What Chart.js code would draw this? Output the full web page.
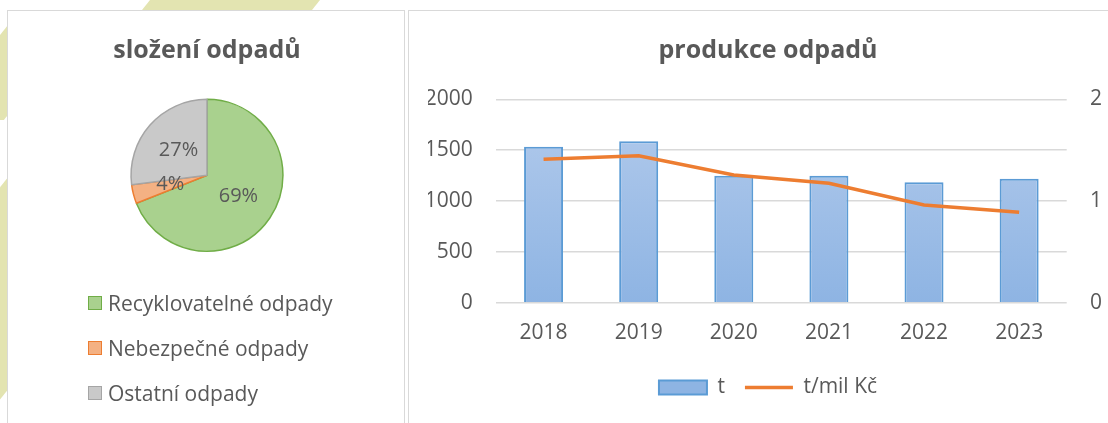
<!DOCTYPE html>
<html>
<head>
<meta charset="utf-8">
<script src="https://cdn.jsdelivr.net/npm/chart.js@4.4.1/dist/chart.umd.min.js"></script>
<style>
  html, body { margin: 0; padding: 0; background: #fff; }
  body { width: 1108px; height: 423px; position: relative; overflow: hidden; }
  .stripe { position: absolute; background: #e3e4b1; transform-origin: 0 0; transform: skewX(-38.7deg); }
  .panel { position: absolute; top: 10px; background: #fff; border: 1px solid #d9d9d9; box-sizing: border-box; }
  #left { left: 7px; width: 398px; height: 430px; }
  #right { left: 408px; width: 720px; height: 430px; }
  .panel canvas { position: absolute; left: 0; top: 0; }
  #pieLegend { position: absolute; left: 88px; top: 280px; font: 21px 'Open Sans', sans-serif; color: #595959; }
  .item { height: 45px; display: flex; align-items: center; white-space: nowrap; }
  .box { width: 14px; height: 14px; box-sizing: border-box; border: 1.5px solid; margin-right: 6px; }
</style>
</head>
<body>
<div class="stripe" style="left:150px; top:0; width:170px; height:430px;"></div>
<div class="stripe" style="left:20px; top:10px; width:72px; height:110px;"></div>

<div class="panel" id="left">
  <canvas id="pie" width="395" height="412"></canvas>
</div>
<div class="panel" id="right">
  <canvas id="combo" width="699" height="412"></canvas>
</div>
<div id="pieLegend"></div>

<script>
// --- složení odpadů ---
const pieLabels = ['Recyklovatelné odpady', 'Nebezpečné odpady', 'Ostatní odpady'];
const pieShares = [69, 4, 27];
const pieFill = ['#a9d18e', '#f4b183', '#c9c9c9'];
const pieBorder = ['#70ad47', '#ed7d31', '#a5a5a5'];

// --- produkce odpadů ---
const years = ['2018', '2019', '2020', '2021', '2022', '2023'];
const tonnes = [1534, 1587, 1249, 1249, 1184, 1219];
const tonnesPerMil = [1.41, 1.445, 1.256, 1.174, 0.961, 0.889];

const grey = '#595959';

Chart.defaults.font.family = "'Open Sans', sans-serif";
Chart.defaults.color = grey;

// percent labels in the middle of each slice
const pieValueLabels = {
    id: 'pieValueLabels',
    afterDatasetsDraw(chart) {
        const ctx = chart.ctx;
        const total = pieShares.reduce((a, b) => a + b, 0);
        ctx.save();
        ctx.font = "20px 'Open Sans'";
        ctx.fillStyle = grey;
        ctx.textAlign = 'center';
        ctx.textBaseline = 'middle';
        chart.getDatasetMeta(0).data.forEach((arc, i) => {
            const p = arc.tooltipPosition();
            ctx.fillText(Math.round(pieShares[i] / total * 100) + '%', p.x, p.y);
        });
        ctx.restore();
    }
};

new Chart(document.getElementById('pie'), {
    type: 'pie',
    data: {
        labels: pieLabels,
        datasets: [{
            data: pieShares,
            backgroundColor: pieFill,
            borderColor: pieBorder,
            borderWidth: 1.5
        }]
    },
    options: {
        responsive: false,
        animation: false,
        layout: { padding: { left: 3, right: 0, top: 0, bottom: 171 } },
        plugins: {
            legend: { display: false },
            tooltip: { enabled: false },
            title: {
                display: true,
                text: 'složení odpadů',
                color: grey,
                font: { size: 25, weight: 'bold' },
                padding: { top: 25, bottom: 32.6 }
            }
        }
    },
    plugins: [pieValueLabels]
});

// html legend for the pie
const legendBox = document.getElementById('pieLegend');
pieLabels.forEach((name, i) => {
    const row = document.createElement('div');
    row.className = 'item';
    row.innerHTML = `<span class="box" style="background:${pieFill[i]};border-color:${pieBorder[i]}"></span>${name}`;
    legendBox.appendChild(row);
});

// bar fill: light blue gradient like the original
function barFill(context) {
    const area = context.chart.chartArea;
    if (!area) return '#9dbde6';
    const g = context.chart.ctx.createLinearGradient(0, area.top, 0, area.bottom);
    g.addColorStop(0, '#b3cbec');
    g.addColorStop(1, '#8eb4e3');
    return g;
}

new Chart(document.getElementById('combo'), {
    type: 'bar',
    data: {
        labels: years,
        datasets: [
            {
                label: 't',
                data: tonnes,
                backgroundColor: barFill,
                borderColor: '#5b9bd5',
                borderWidth: 2,
                barPercentage: 0.41,
                categoryPercentage: 1,
                pointStyle: 'rect',
                yAxisID: 'y',
                order: 1
            },
            {
                type: 'line',
                label: 't/mil Kč',
                data: tonnesPerMil,
                borderColor: '#ed7d31',
                backgroundColor: '#ed7d31',
                borderWidth: 3.5,
                pointRadius: 0,
                pointStyle: 'line',
                tension: 0,
                yAxisID: 'y1',
                order: 0
            }
        ]
    },
    options: {
        responsive: false,
        animation: false,
        layout: { padding: { left: 19, right: 0, top: 0, bottom: 15 } },
        plugins: {
            tooltip: { enabled: false },
            title: {
                display: true,
                text: 'produkce odpadů',
                color: grey,
                font: { size: 25, weight: 'bold' },
                padding: { top: 25, bottom: 33.3 }
            },
            legend: {
                position: 'bottom',
                labels: {
                    usePointStyle: true,
                    pointStyleWidth: 48,
                    boxHeight: 14,
                    padding: 20,
                    color: grey,
                    font: { size: 21 },
                    sort: (a, b) => a.datasetIndex - b.datasetIndex
                }
            }
        },
        scales: {
            x: {
                grid: { display: false, drawTicks: false },
                border: { display: false },
                ticks: { padding: 17.7, font: { size: 21 } },
                afterFit(scale) { scale.height = 70.3 - 16; }
            },
            y: {
                position: 'left',
                min: 0,
                max: 2000,
                ticks: { stepSize: 500, padding: 23.3, font: { size: 21 }, callback: v => String(v) },
                grid: { color: '#d9d9d9', lineWidth: 1.5, drawTicks: false },
                border: { display: false },
                afterFit(scale) { scale.width = 68; }
            },
            y1: {
                position: 'right',
                min: 0,
                max: 2,
                ticks: { stepSize: 1, padding: 23.3, font: { size: 21 }, callback: v => String(v) },
                grid: { drawOnChartArea: false, drawTicks: false },
                border: { display: false },
                afterFit(scale) { scale.width = 41.3; }
            }
        }
    }
});
</script>
</body>
</html>
